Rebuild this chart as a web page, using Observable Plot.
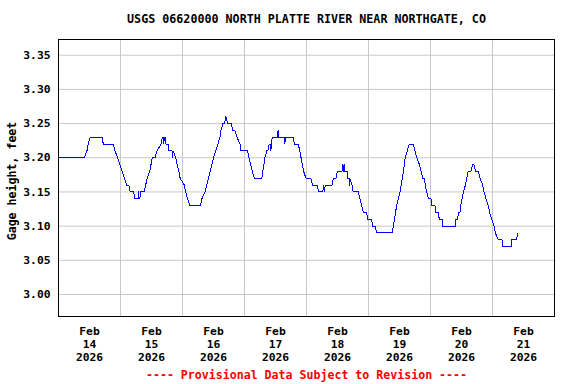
<!DOCTYPE html>
<html>
<head>
<meta charset="utf-8">
<script src="https://cdn.jsdelivr.net/npm/d3@7"></script>
<script src="https://cdn.jsdelivr.net/npm/@observablehq/plot@0.6"></script>
<style>
  html, body { margin: 0; padding: 0; background: white; }
</style>
</head>
<body>
<div id="chart"></div>
<script>
const titleText = "USGS 06620000 NORTH PLATTE RIVER NEAR NORTHGATE, CO";
const captionText = "---- Provisional Data Subject to Revision ----";
const yLabelText = "Gage height, feet";

const monthLabel = "Feb";
const yearLabel = "2026";
const dayNumbers = [14, 15, 16, 17, 18, 19, 20, 21];
const gridDays = [15, 16, 17, 18, 19, 20, 21];
const yTicks = [3.00, 3.05, 3.10, 3.15, 3.20, 3.25, 3.30, 3.35];

// hours since Feb 14 2026 00:00
const hours = [
  0, 10.0, 11.0, 11.5, 12.3, 17.0, 17.3, 21.2, 21.9, 22.9,
  26.4, 27.2, 27.8, 29.2, 29.3, 30.9, 31.0, 31.2, 31.5, 31.7,
  33.2, 34.3, 35.3, 36.3, 37.4, 38.1, 39.7, 40.2, 40.6, 40.75,
  41.0, 41.5, 41.6, 42.5, 42.8, 44.0, 44.2, 44.4, 45.4, 45.9,
  46.6, 47.1, 48.7, 49.2, 50.0, 50.9, 55.0, 55.5, 56.7, 60.0,
  60.8, 61.7, 62.5, 62.9, 63.6, 64.2, 64.8, 65.5, 66.8, 67.5,
  68.3, 69.1, 70.3, 70.6, 73.2, 73.7, 74.4, 75.0, 75.8, 78.7,
  79.9, 80.6, 81.0, 81.6, 82.0, 82.2, 82.7, 84.75, 85.0, 85.25,
  87.3, 87.6, 87.9, 90.9, 91.3, 92.8, 93.4, 93.9, 94.4, 94.9,
  95.8, 97.7, 98.3, 100.1, 100.7, 102.3, 102.6, 102.9, 103.3, 105.9,
  106.4, 107.4, 107.9, 109.7, 110.1, 110.4, 110.6, 110.9, 111.8, 112.0,
  112.5, 112.7, 112.8, 113.6, 114.1, 116.1, 116.7, 117.4, 118.0, 119.3,
  119.7, 121.2, 121.6, 122.6, 123.2, 129.2, 129.6, 130.9, 132.2, 133.5,
  134.2, 135.0, 135.8, 137.3, 138.0, 138.7, 139.7, 140.4, 141.0, 141.6,
  142.0, 142.5, 143.2, 144.2, 144.5, 145.7, 146.1, 147.0, 147.4, 148.6,
  148.7, 153.6, 153.8, 154.4, 154.9, 155.4, 155.7, 156.2, 156.8, 157.5,
  158.0, 158.6, 159.6, 160.3, 160.8, 161.5, 162.5, 163.2, 164.2, 164.7,
  165.5, 166.4, 166.9, 167.7, 168.6, 169.1, 170.2, 171.7, 171.8, 175.2,
  175.4, 177.4, 177.6
];
const stage = [
  3.20, 3.20, 3.21, 3.22, 3.23, 3.23, 3.22, 3.22, 3.21, 3.20,
  3.16, 3.16, 3.15, 3.15, 3.14, 3.14, 3.15, 3.14, 3.14, 3.15,
  3.15, 3.17, 3.18, 3.20, 3.20, 3.21, 3.22, 3.23, 3.23, 3.22,
  3.23, 3.23, 3.22, 3.22, 3.21, 3.21, 3.20, 3.21, 3.20, 3.19,
  3.18, 3.17, 3.16, 3.15, 3.14, 3.13, 3.13, 3.14, 3.15, 3.20,
  3.21, 3.22, 3.23, 3.24, 3.25, 3.25, 3.26, 3.25, 3.25, 3.24,
  3.24, 3.23, 3.22, 3.21, 3.21, 3.20, 3.19, 3.18, 3.17, 3.17,
  3.20, 3.21, 3.21, 3.22, 3.22, 3.21, 3.23, 3.23, 3.24, 3.23,
  3.23, 3.22, 3.23, 3.23, 3.22, 3.22, 3.21, 3.20, 3.19, 3.18,
  3.17, 3.17, 3.16, 3.16, 3.15, 3.15, 3.16, 3.15, 3.16, 3.16,
  3.17, 3.17, 3.18, 3.18, 3.19, 3.18, 3.19, 3.18, 3.18, 3.17,
  3.17, 3.16, 3.17, 3.16, 3.15, 3.15, 3.14, 3.13, 3.12, 3.12,
  3.11, 3.11, 3.10, 3.10, 3.09, 3.09, 3.10, 3.13, 3.15, 3.18,
  3.20, 3.21, 3.22, 3.22, 3.21, 3.20, 3.19, 3.18, 3.17, 3.17,
  3.16, 3.15, 3.14, 3.14, 3.13, 3.13, 3.12, 3.12, 3.11, 3.11,
  3.10, 3.10, 3.11, 3.11, 3.12, 3.12, 3.13, 3.14, 3.15, 3.16,
  3.17, 3.18, 3.18, 3.19, 3.19, 3.18, 3.18, 3.17, 3.16, 3.15,
  3.14, 3.13, 3.12, 3.11, 3.10, 3.09, 3.08, 3.08, 3.07, 3.07,
  3.08, 3.08, 3.09
];

const t0 = Date.UTC(2026, 1, 14);
const data = hours.map((h, i) => ({ date: new Date(t0 + h * 3600e3), stage: stage[i] }));
const tickDates = dayNumbers.map(d => new Date(Date.UTC(2026, 1, d, 12)));
const gridDates = gridDays.map(d => new Date(Date.UTC(2026, 1, d)));

const font = "'DejaVu Sans Mono', monospace";

const chart = Plot.plot({
  width: 576,
  height: 384,
  marginLeft: 58,
  marginRight: 22,
  marginTop: 39,
  marginBottom: 68,
  style: { fontFamily: font, fontWeight: "bold", fontSize: "11.3px", background: "white", color: "black" },
  x: { type: "utc", domain: [new Date(Date.UTC(2026, 1, 14)), new Date(Date.UTC(2026, 1, 22))] },
  y: { domain: [2.9678, 3.373] },
  marks: [
    Plot.gridX(gridDates, { stroke: "#c8c8c8", strokeOpacity: 1 }),
    Plot.gridY(yTicks, { stroke: "#c8c8c8", strokeOpacity: 1 }),
    Plot.line(data, { x: "date", y: "stage", stroke: "#0000ff", strokeWidth: 1, shapeRendering: "crispEdges" }),
    Plot.frame({ stroke: "black", strokeWidth: 1 }),
    Plot.axisX(tickDates, {
      tickSize: 0, tickPadding: 9, label: null, lineHeight: 1.17,
      tickFormat: d => `${monthLabel}\n${d.getUTCDate()}\n${yearLabel}`
    }),
    Plot.axisY(yTicks, { tickSize: 0, tickPadding: 8, label: null, tickFormat: d3.format(".2f") }),
    Plot.text([titleText], { text: d => d, frameAnchor: "top", dy: -25, fontSize: 11.7 }),
    Plot.text([captionText], { text: d => d, frameAnchor: "bottom", dy: 62, fill: "#ff0000", fontSize: 11.6 }),
    Plot.text([yLabelText], { text: d => d, frameAnchor: "left", textAnchor: "middle", dx: -46, dy: 3, rotate: -90, fontSize: 11.6 })
  ]
});
document.getElementById("chart").appendChild(chart);
</script>
</body>
</html>
